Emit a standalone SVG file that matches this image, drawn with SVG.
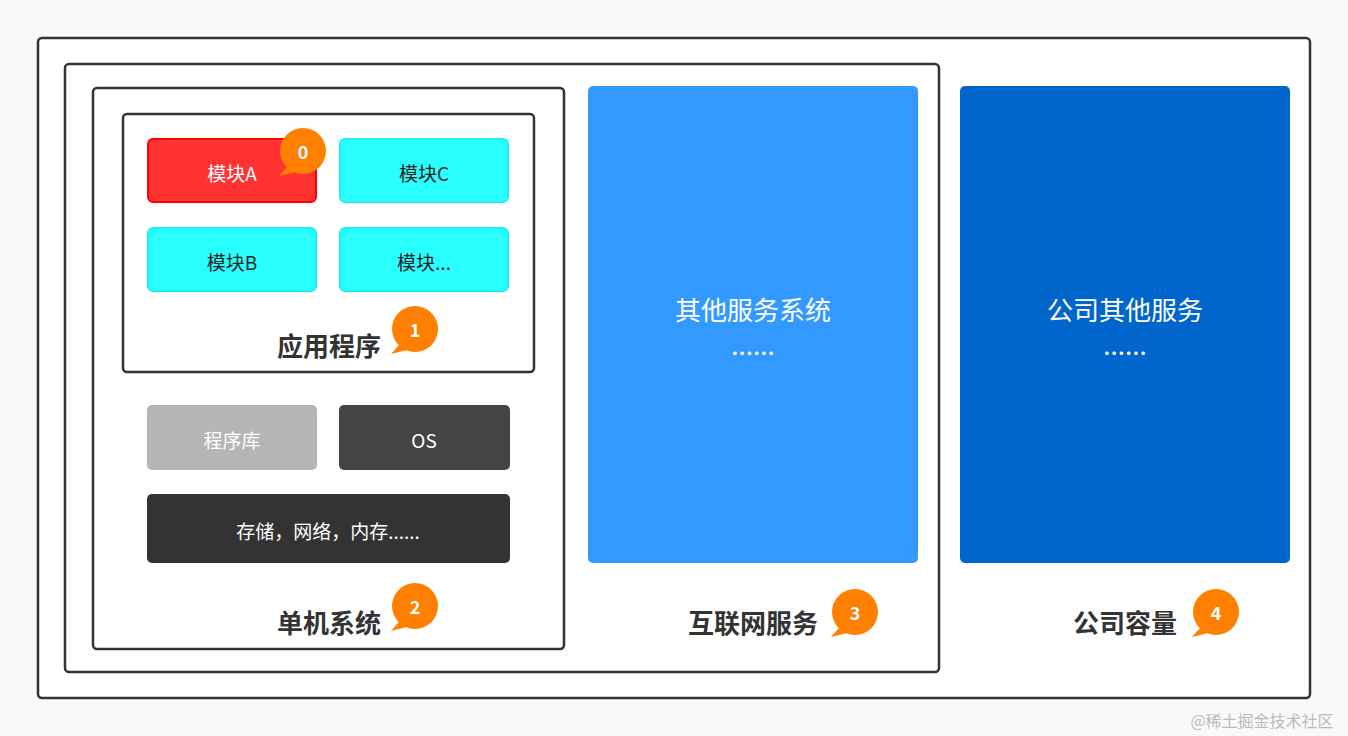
<svg xmlns="http://www.w3.org/2000/svg" width="1348" height="736" viewBox="0 0 1348 736">
<style>
text{font-family:"Microsoft YaHei","Noto Sans CJK SC","Noto Sans",sans-serif;text-anchor:middle;dominant-baseline:central}
.frame{fill:#fff;stroke:#333;stroke-width:2.5}
.cyan{fill:#2affff;stroke:#1ef0f0;stroke-width:2}
.t{font-size:19px;fill:#222}
.w{font-size:19px;fill:#fff}
.lab{font-size:26px;font-weight:bold;fill:#333}
.big{font-size:26px;fill:#fff}
.bn{font-size:18px;font-weight:bold;fill:#fff}
</style>
<defs>
<g id="badge"><path d="M-16 16 L-24 25 L-8 21 Z" fill="#ff8000"/><circle r="23" fill="#ff8000"/></g>
</defs>
<rect width="1348" height="736" fill="#f9f9f9"/>
<g id="outer"><rect class="frame" x="38" y="38" width="1272" height="660" rx="4"/></g>
<g id="internet"><rect class="frame" x="65" y="64" width="874" height="608" rx="4"/></g>
<g id="standalone"><rect class="frame" x="93" y="88" width="471" height="561" rx="4"/></g>
<g id="app"><rect class="frame" x="123" y="114" width="411" height="258" rx="4"/></g>
<g id="modA"><rect x="148" y="139" width="168" height="63" rx="5" fill="#ff3333" stroke="#f00" stroke-width="2"/><text class="w" x="232" y="172">模块A</text></g>
<g id="modC"><rect class="cyan" x="340" y="139" width="168" height="63" rx="5"/><text class="t" x="424" y="172">模块C</text></g>
<g id="modB"><rect class="cyan" x="148" y="228" width="168" height="63" rx="5"/><text class="t" x="232" y="261">模块B</text></g>
<g id="modX"><rect class="cyan" x="340" y="228" width="168" height="63" rx="5"/><text class="t" x="424" y="261">模块...</text></g>
<g id="lib"><rect x="147" y="405" width="170" height="65" rx="5" fill="#b5b5b5"/><text class="w" x="232" y="439">程序库</text></g>
<g id="os"><rect x="339" y="405" width="171" height="65" rx="5" fill="#444"/><text class="w" x="424" y="439">OS</text></g>
<g id="hw"><rect x="147" y="494" width="363" height="69" rx="5" fill="#333"/><text class="w" x="328" y="530">存储，网络，内存......</text></g>
<g id="other"><rect x="588" y="86" width="330" height="477" rx="5" fill="#3399ff"/><text class="big" x="753" y="308">其他服务系统</text><text class="big" x="753" y="343">......</text></g>
<g id="company"><rect x="960" y="86" width="330" height="477" rx="5" fill="#0066cc"/><text class="big" x="1125" y="308">公司其他服务</text><text class="big" x="1125" y="343">......</text></g>
<g id="labels">
<text class="lab" x="329" y="344">应用程序</text>
<text class="lab" x="329" y="621">单机系统</text>
<text class="lab" x="753" y="621">互联网服务</text>
<text class="lab" x="1125" y="621">公司容量</text>
</g>
<g id="badges">
<use href="#badge" x="303" y="151"/><text class="bn" x="303" y="151">0</text>
<use href="#badge" x="415" y="329"/><text class="bn" x="415" y="329">1</text>
<use href="#badge" x="415" y="606"/><text class="bn" x="415" y="606">2</text>
<use href="#badge" x="855" y="612"/><text class="bn" x="855" y="612">3</text>
<use href="#badge" x="1216" y="612"/><text class="bn" x="1216" y="612">4</text>
</g>
<g id="connectors"></g>
<text x="1262" y="720" style="font-size:16px;fill:#bbb">@稀土掘金技术社区</text>
</svg>
